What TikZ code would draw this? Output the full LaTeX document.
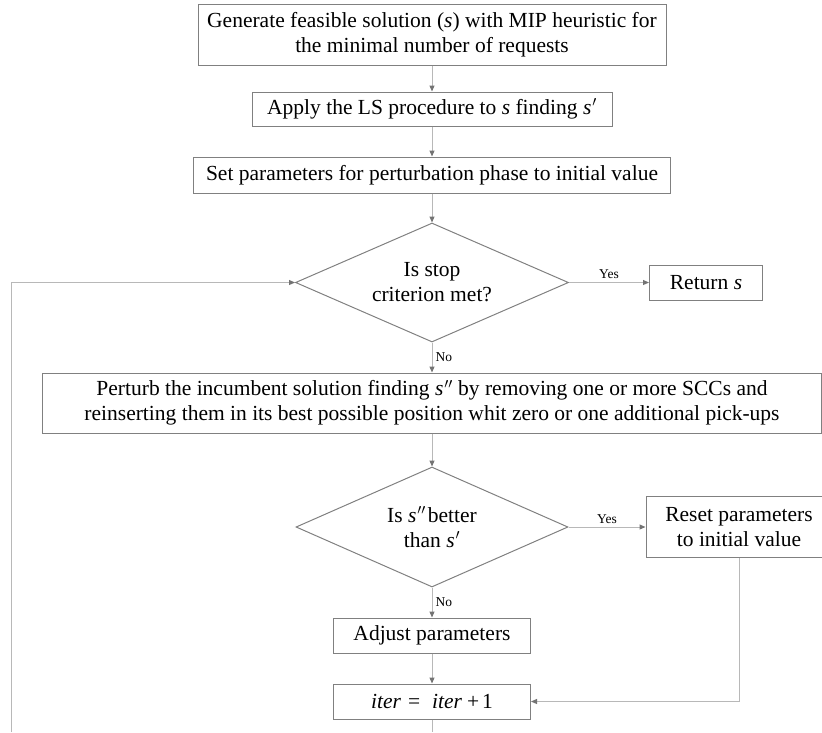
\documentclass[tikz,border=0pt]{standalone}
\usepackage{fontspec}
\setmainfont{Liberation Serif}
\usetikzlibrary{positioning,shapes.geometric,arrows.meta}

\tikzset{
	box/.style={draw=black!50,line width=1pt,align=center,inner sep=0pt,font=\fontsize{21.5}{25}\selectfont},
	dec/.style={box,diamond,aspect=2.3},
	line/.style={draw=black!28,line width=1pt},
	arr/.style={line,-{Triangle[length=6pt,width=5pt,color=black!55]}},
	lab/.style={font=\fontsize{13.5}{15}\selectfont,inner sep=3pt}
}

\begin{document}
\begin{tikzpicture}[x=1pt,y=-1pt]
	\clip (0,0) rectangle (822,732);
	\node[box,minimum width=468pt,minimum height=61pt] (gen) at (432,34.5) {Generate feasible solution (\textit{s}) with MIP heuristic for\\the minimal number of requests};
	\node[box,minimum width=360pt,minimum height=34pt,below=26pt of gen] (ls) {Apply the LS procedure to \textit{s} finding \textit{s}\kern1pt$'$};
	\node[box,minimum width=477pt,minimum height=36pt,below=30pt of ls] (par) {Set parameters for perturbation phase to initial value};
	\node[dec,minimum width=273pt,minimum height=119pt,below=29pt of par] (stop) {Is stop\\criterion met?};
	\node[box,minimum width=113pt,minimum height=35pt,right=80pt of stop] (ret) {Return \textit{s}};
	\node[box,minimum width=779pt,minimum height=60pt,below=30pt of stop] (pert) {Perturb the incumbent solution finding \textit{s}\kern1pt$''$ by removing one or more SCCs and\\reinserting them in its best possible position whit zero or one additional pick-ups};
	\node[dec,minimum width=272pt,minimum height=120pt,below=33pt of pert] (better) {Is \textit{s}\kern1pt$''$\kern2pt better\\than \textit{s}\kern1pt$'$};
	\node[box,minimum width=186pt,minimum height=61pt,right=77pt of better] (reset) {Reset parameters\\to initial value};
	\node[box,minimum width=197pt,minimum height=35pt,below=30pt of better] (adj) {Adjust parameters};
	\node[box,minimum width=197pt,minimum height=35pt,below=30pt of adj] (iter) {\textit{iter}\hspace{7pt}=\hspace{12pt}\textit{iter}\hspace{5pt}+\hspace{3pt}1};
	\coordinate (lb) at (11,732);
	\coordinate (ib) at (iter.south |- lb);
	
	\draw[arr] (gen)--(ls);
	\draw[arr] (ls)--(par);
	\draw[arr] (par)--(stop);
	\draw[arr] (stop)--node[lab,above]{Yes}(ret);
	\draw[arr] (stop)--node[lab,right]{No}(pert);
	\draw[arr] (pert)--(better);
	\draw[arr] (better)--node[lab,above]{Yes}(reset);
	\draw[arr] (better)--node[lab,right]{No}(adj);
	\draw[arr] (adj)--(iter);
	\draw[arr] (reset.south)|-(iter.east);
	\draw[line] (iter)--(ib);
	\draw[arr] (lb)|-(stop.west);
\end{tikzpicture}
\end{document}
